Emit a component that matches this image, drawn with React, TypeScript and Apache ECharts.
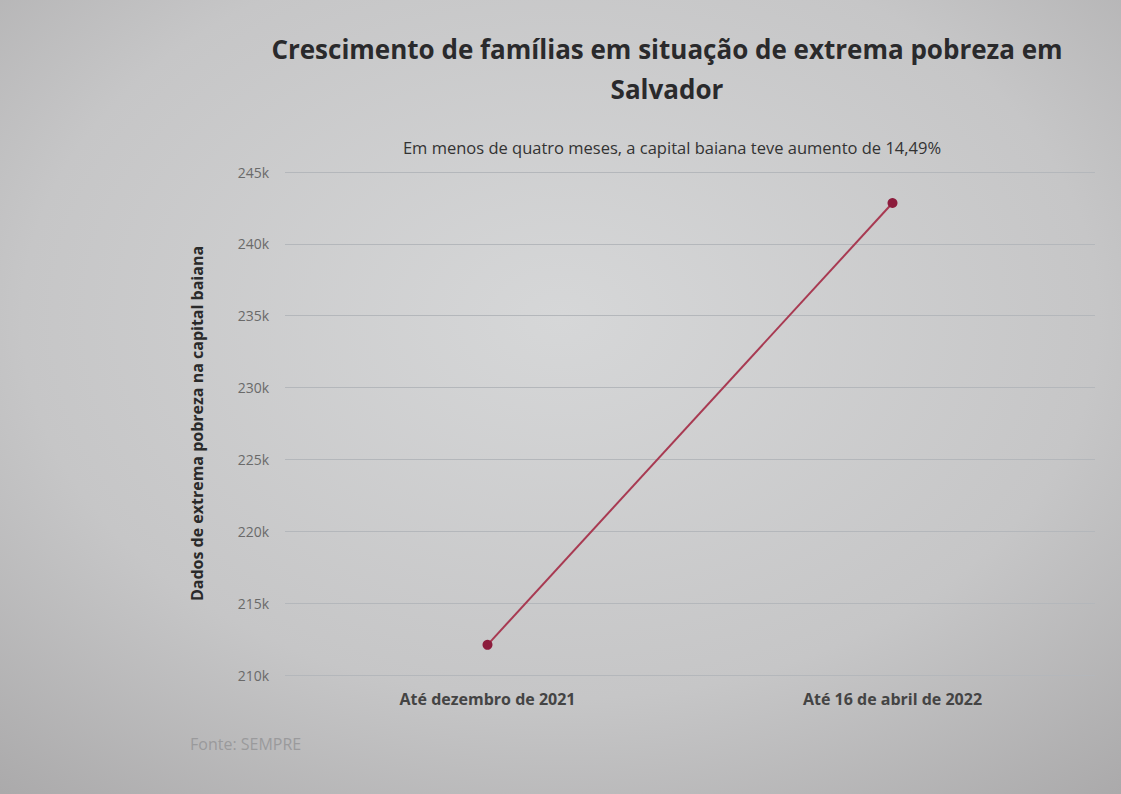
import React, { useEffect, useRef } from "react";
import * as echarts from "echarts";

const categories = ["Até dezembro de 2021", "Até 16 de abril de 2022"];
const familias = [212100, 242840];
const titleText = "Crescimento de famílias em situação de extrema pobreza em\nSalvador";
const subtitleText = "Em menos de quatro meses, a capital baiana teve aumento de 14,49%";
const yAxisName = "Dados de extrema pobreza na capital baiana";
const sourceText = "Fonte: SEMPRE";

export default function App() {
  const ref = useRef<HTMLDivElement>(null);
  useEffect(() => {
    if (!ref.current) return;
    const chart = echarts.init(ref.current, undefined, { renderer: "svg" });
    chart.setOption({
      animation: false,
      backgroundColor: {
        type: "radial",
        x: 0.5,
        y: 0.4,
        r: 0.8,
        colorStops: [
          { offset: 0, color: "#d6d7d8" },
          { offset: 0.6, color: "#c6c6c7" },
          { offset: 1, color: "#a9a8a9" },
        ],
      },
      textStyle: { fontFamily: "Open Sans" },
      title: [
        {
          text: titleText,
          left: 662,
          top: 24,
          textAlign: "center",
          textStyle: { fontSize: 26, fontWeight: "bold", color: "#2a2a2c", lineHeight: 40, fontFamily: "Open Sans" },
        },
        {
          text: subtitleText,
          left: 667,
          top: 134,
          textAlign: "center",
          textStyle: { fontSize: 16.5, fontWeight: "normal", color: "#333", fontFamily: "Open Sans" },
        },
        {
          text: sourceText,
          left: 185,
          top: 731,
          textStyle: { fontSize: 16, fontWeight: "normal", color: "#9a9a9c", fontFamily: "Open Sans" },
        },
      ],
      grid: { left: 285, right: 26, top: 172, bottom: 119 },
      xAxis: {
        type: "category",
        data: categories,
        boundaryGap: true,
        axisLine: { show: false },
        axisTick: { show: false },
        axisLabel: { fontSize: 16, fontWeight: "bold", color: "#444", margin: 16, fontFamily: "Open Sans" },
      },
      yAxis: {
        type: "value",
        min: 210000,
        max: 245000,
        interval: 5000,
        name: yAxisName,
        nameLocation: "middle",
        nameGap: 80,
        nameRotate: 90,
        nameTextStyle: { fontSize: 16, fontWeight: "bold", color: "#2a2a2a", fontFamily: "Open Sans" },
        axisLine: { show: false },
        axisTick: { show: false },
        axisLabel: {
          fontSize: 14,
          color: "#6a6a6a",
          margin: 16,
          formatter: (v: number) => `${Math.round(v / 1000)}k`,
        },
        splitLine: { lineStyle: { color: "#b4b7bb", width: 1 } },
      },
      series: [
        {
          type: "line",
          data: familias,
          symbol: "circle",
          symbolSize: 10,
          lineStyle: { color: "#a83a52", width: 2 },
          itemStyle: { color: "#8c1c3c" },
        },
      ],
    });
    return () => chart.dispose();
  }, []);
  return <div ref={ref} style={{ width: 1121, height: 794, position: "absolute", left: 0, top: 0 }} />;
}
